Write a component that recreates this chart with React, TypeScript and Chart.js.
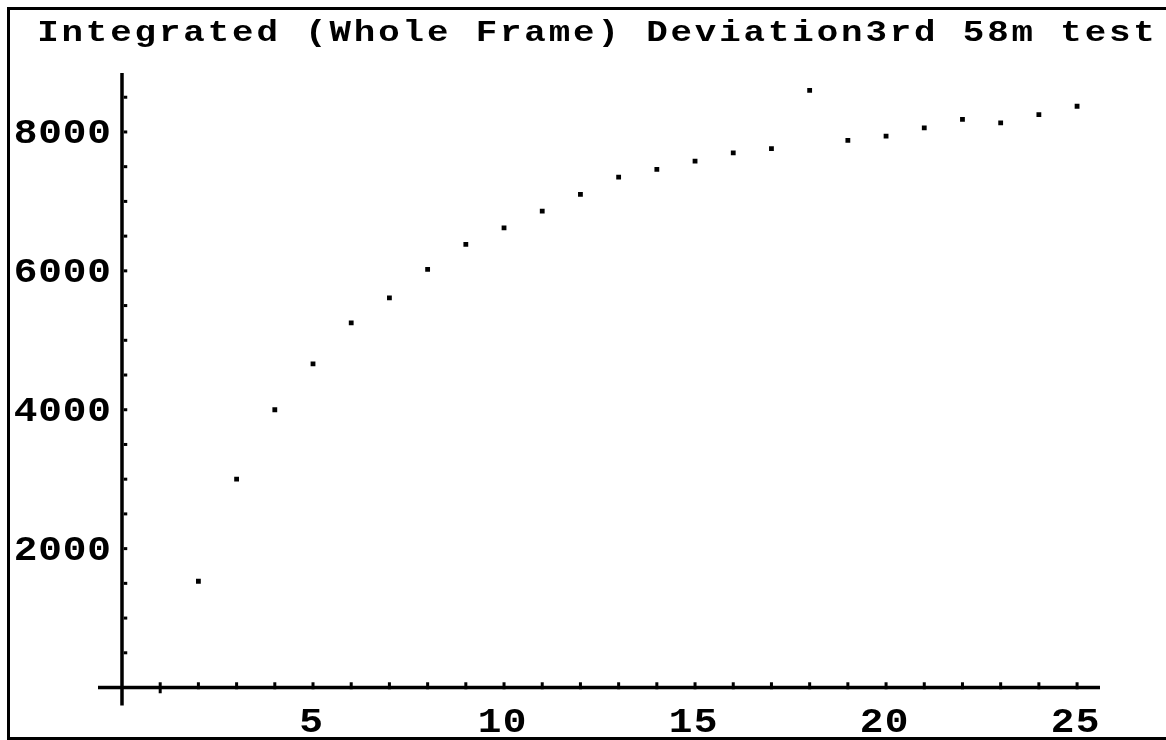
import React, { useEffect, useRef } from "react";
import { Chart, registerables } from "chart.js";

Chart.register(...registerables);

const TITLE = "Integrated (Whole Frame) Deviation3rd 58m test";

const frames = [2, 3, 4, 5, 6, 7, 8, 9, 10, 11, 12, 13, 14, 15, 16, 17, 18, 19, 20, 21, 22, 23, 24, 25];
const deviation = [
  1530, 3000, 4000, 4660, 5250, 5610, 6020, 6380, 6620, 6860, 7100, 7350,
  7460, 7580, 7700, 7760, 8600, 7880, 7940, 8060, 8180, 8130, 8250, 8370,
];

const xTickValues = [1, 2, 3, 4, 5, 6, 7, 8, 9, 10, 11, 12, 13, 14, 15, 16, 17, 18, 19, 20, 21, 22, 23, 24, 25];
const xTickLabels = [5, 10, 15, 20, 25];
const yTickValues = [500, 1000, 1500, 2000, 2500, 3000, 3500, 4000, 4500, 5000, 5500, 6000, 6500, 7000, 7500, 8000, 8500];
const yTickLabels = [2000, 4000, 6000, 8000];

const FONT = '"Liberation Mono", "DejaVu Sans Mono", monospace';

function fontSizeFor(ctx: CanvasRenderingContext2D, sample: string, targetHeight: number): number {
  ctx.font = `bold 100px ${FONT}`;
  const h = ctx.measureText(sample).actualBoundingBoxAscent || 66;
  return (100 * targetHeight) / h;
}

function drawSpaced(
  ctx: CanvasRenderingContext2D,
  text: string,
  centerX: number,
  baseline: number,
  advance: number,
  stretch: number
) {
  const n = text.length;
  const start = centerX - ((n - 1) * advance) / 2;
  ctx.textAlign = "center";
  for (let i = 0; i < n; i++) {
    if (text[i] === " ") continue;
    ctx.save();
    ctx.translate(start + i * advance, baseline);
    ctx.scale(stretch, 1);
    ctx.fillText(text[i], 0, 0);
    ctx.restore();
  }
}

const axesPlugin = {
  id: "mmaAxes",
  beforeDatasetsDraw(chart: any) {
    const { ctx, chartArea, scales } = chart;
    const xs = scales.x;
    const ys = scales.y;
    const x0 = xs.getPixelForValue(0);
    const y0 = ys.getPixelForValue(0);
    const lw = 3.5;
    ctx.save();
    ctx.fillStyle = "#000";
    // axes
    ctx.fillRect(chartArea.left, y0 - lw / 2, chartArea.right - chartArea.left, lw);
    ctx.fillRect(x0 - lw / 2, chartArea.top, lw, chartArea.bottom - chartArea.top);
    // tick marks
    xTickValues.forEach((v, i) => {
      const px = xs.getPixelForValue(v);
      const below = i === 0 ? 4 : 0;
      ctx.fillRect(px - 1.5, y0 - lw / 2 - 3.5, 3, 3.5 + lw + below);
    });
    yTickValues.forEach((v) => {
      const py = ys.getPixelForValue(v);
      ctx.fillRect(x0 + lw / 2, py - 1.5, 3.5, 3);
    });
    // tick labels
    const digitH = 23;
    const size = fontSizeFor(ctx, "0", digitH);
    ctx.font = `bold ${size}px ${FONT}`;
    ctx.textBaseline = "alphabetic";
    xTickLabels.forEach((v) => {
      drawSpaced(ctx, String(v), xs.getPixelForValue(v) - 2, y0 + 44, 25, 1.15);
    });
    yTickLabels.forEach((v) => {
      const s = String(v);
      const py = ys.getPixelForValue(v);
      const adv = 24.5;
      const lastCenter = x0 - 23;
      const cx = lastCenter - ((s.length - 1) * adv) / 2;
      drawSpaced(ctx, s, cx, py + digitH / 2, adv, 1.15);
    });
    ctx.restore();
  },
  afterDraw(chart: any) {
    const { ctx } = chart;
    ctx.save();
    ctx.fillStyle = "#000";
    const size = fontSizeFor(ctx, "I", 20);
    ctx.font = `bold ${size}px ${FONT}`;
    ctx.textBaseline = "alphabetic";
    drawSpaced(ctx, TITLE, 586, 31, 24.36, 1.2);
    ctx.restore();
  },
};

export default function App() {
  const canvasRef = useRef<HTMLCanvasElement | null>(null);

  useEffect(() => {
    if (!canvasRef.current) return;
    const chart = new Chart(canvasRef.current, {
      type: "scatter",
      data: {
        datasets: [
          {
            label: "Deviation",
            data: frames.map((f, i) => ({ x: f, y: deviation[i] })),
            pointStyle: "rect",
            pointRadius: 3.4,
            pointHoverRadius: 3.4,
            backgroundColor: "#000",
            borderColor: "#000",
            borderWidth: 0,
            showLine: false,
          },
        ],
      },
      options: {
        animation: false,
        responsive: true,
        maintainAspectRatio: false,
        layout: { padding: { left: 88, right: 66, top: 63, bottom: 31.5 } },
        scales: {
          x: { type: "linear", min: -0.628, max: 25.6, display: false },
          y: { type: "linear", min: -259, max: 8849, display: false },
        },
        plugins: {
          legend: { display: false },
          tooltip: { enabled: false },
          title: { display: false },
        },
        events: [],
      },
      plugins: [axesPlugin],
    });
    return () => chart.destroy();
  }, []);

  return (
    <div
      style={{
        position: "fixed",
        left: 7,
        top: 7,
        width: 1159,
        height: 733,
        boxSizing: "border-box",
        borderLeft: "3px solid #000",
        borderTop: "3px solid #000",
        borderBottom: "3px solid #000",
        background: "#fff",
      }}
    >
      <div style={{ position: "relative", width: "100%", height: "100%" }}>
        <canvas ref={canvasRef} />
      </div>
    </div>
  );
}
